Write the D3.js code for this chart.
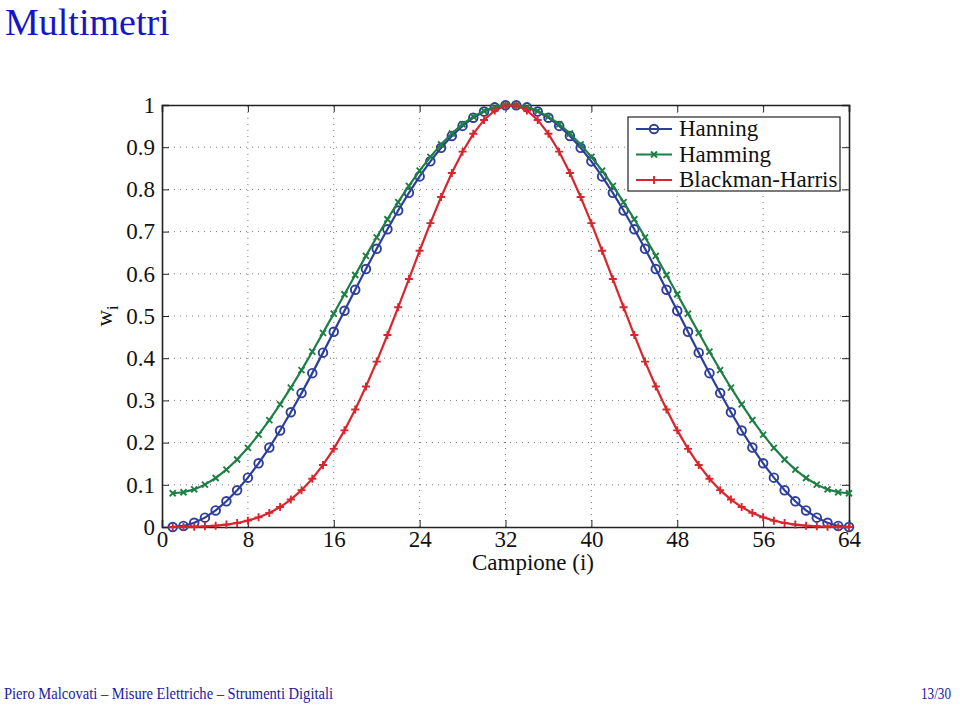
<!DOCTYPE html>
<html>
<head>
<meta charset="utf-8">
<script src="https://cdn.jsdelivr.net/npm/d3@7"></script>
<style>
  body { margin: 0; background: #fff; }
  svg { display: block; font-family: "Liberation Serif", "DejaVu Serif", serif; }
</style>
</head>
<body>
<svg id="chart" width="960" height="707"></svg>
<script>
// window values (samples i = 1..64)
const hanning = [
  0.0000, 0.0025, 0.0099, 0.0222, 0.0393, 0.0609, 0.0869, 0.1170, 0.1509, 0.1883, 0.2287, 0.2719, 0.3173, 0.3646, 0.4132, 0.4626,
  0.5125, 0.5622, 0.6113, 0.6592, 0.7056, 0.7500, 0.7919, 0.8308, 0.8665, 0.8986, 0.9266, 0.9505, 0.9698, 0.9845, 0.9944, 0.9994,
  0.9994, 0.9944, 0.9845, 0.9698, 0.9505, 0.9266, 0.8986, 0.8665, 0.8308, 0.7919, 0.7500, 0.7056, 0.6592, 0.6113, 0.5622, 0.5125,
  0.4626, 0.4132, 0.3646, 0.3173, 0.2719, 0.2287, 0.1883, 0.1509, 0.1170, 0.0869, 0.0609, 0.0393, 0.0222, 0.0099, 0.0025, 0.0000
];
const hamming = [
  0.0800, 0.0823, 0.0891, 0.1004, 0.1161, 0.1360, 0.1599, 0.1876, 0.2188, 0.2532, 0.2904, 0.3301, 0.3719, 0.4154, 0.4601, 0.5056,
  0.5515, 0.5972, 0.6424, 0.6865, 0.7292, 0.7700, 0.8085, 0.8444, 0.8772, 0.9067, 0.9325, 0.9544, 0.9723, 0.9858, 0.9949, 0.9994,
  0.9994, 0.9949, 0.9858, 0.9723, 0.9544, 0.9325, 0.9067, 0.8772, 0.8444, 0.8085, 0.7700, 0.7292, 0.6865, 0.6424, 0.5972, 0.5515,
  0.5056, 0.4601, 0.4154, 0.3719, 0.3301, 0.2904, 0.2532, 0.2188, 0.1876, 0.1599, 0.1360, 0.1161, 0.1004, 0.0891, 0.0823, 0.0800
];
const blackmanHarris = [
  0.0001, 0.0002, 0.0007, 0.0016, 0.0032, 0.0057, 0.0095, 0.0151, 0.0229, 0.0334, 0.0473, 0.0651, 0.0873, 0.1145, 0.1470, 0.1852,
  0.2290, 0.2783, 0.3328, 0.3920, 0.4549, 0.5206, 0.5876, 0.6546, 0.7200, 0.7820, 0.8390, 0.8894, 0.9317, 0.9646, 0.9871, 0.9986,
  0.9986, 0.9871, 0.9646, 0.9317, 0.8894, 0.8390, 0.7820, 0.7200, 0.6546, 0.5876, 0.5206, 0.4549, 0.3920, 0.3328, 0.2783, 0.2290,
  0.1852, 0.1470, 0.1145, 0.0873, 0.0651, 0.0473, 0.0334, 0.0229, 0.0151, 0.0095, 0.0057, 0.0032, 0.0016, 0.0007, 0.0002, 0.0001
];

const seriesNames = ['Hanning', 'Hamming', 'Blackman-Harris'];
const seriesColors = ['#2d3f9a', '#1e7f45', '#d8262e'];
const seriesMarkers = ['circle', 'cross', 'plus'];
const xTicks = [0, 8, 16, 24, 32, 40, 48, 56, 64];
const yTicks = [0, 0.1, 0.2, 0.3, 0.4, 0.5, 0.6, 0.7, 0.8, 0.9, 1];

const svg = d3.select('#chart');
const box = {left: 162, right: 849, top: 105, bottom: 527};
const fontSize = 23;

const x = d3.scaleLinear().domain([0, 64]).range([box.left, box.right]);
const y = d3.scaleLinear().domain([0, 1]).range([box.bottom, box.top]);

// title + footer
svg.append('text').text('Multimetri')
  .attr('x', 5).attr('y', 35)
  .attr('font-size', 38).attr('fill', '#1515c8');

svg.append('text').text('Piero Malcovati  \u2013  Misure Elettriche  \u2013  Strumenti Digitali')
  .attr('x', 4).attr('y', 699)
  .attr('font-size', 16).attr('fill', '#1a1aa0')
  .attr('textLength', 329).attr('lengthAdjust', 'spacingAndGlyphs');
svg.append('text').text('13/30')
  .attr('x', 951).attr('y', 699).attr('text-anchor', 'end')
  .attr('font-size', 16).attr('fill', '#1a1aa0')
  .attr('textLength', 30).attr('lengthAdjust', 'spacingAndGlyphs');

// dotted grid
const grid = svg.append('g').attr('id', 'grid')
  .attr('stroke', '#777').attr('stroke-width', 1).attr('stroke-dasharray', '1,5');
grid.selectAll('line.gx')
  .data(xTicks.slice(1, -1))
  .join('line').attr('class', 'gx')
    .attr('x1', d => x(d)).attr('x2', d => x(d))
    .attr('y1', box.bottom).attr('y2', box.top);
grid.selectAll('line.gy')
  .data(yTicks.slice(1, -1))
  .join('line').attr('class', 'gy')
    .attr('x1', box.left).attr('x2', box.right)
    .attr('y1', d => y(d)).attr('y2', d => y(d));

// axes with inward ticks (matlab style), on all four sides
const tickLen = 7;
svg.append('g').attr('transform', `translate(0 ${box.bottom})`)
  .call(d3.axisBottom(x).tickValues(xTicks).tickSize(-tickLen).tickPadding(4).tickFormat(d3.format('d')));
svg.append('g').attr('transform', `translate(0 ${box.top})`)
  .call(d3.axisTop(x).tickValues(xTicks).tickSize(-tickLen).tickFormat(''));
svg.append('g').attr('transform', `translate(${box.left} 0)`)
  .call(d3.axisLeft(y).tickValues(yTicks).tickSize(-tickLen).tickPadding(7).tickFormat(d => d === 0 || d === 1 ? d3.format('d')(d) : d3.format('.1f')(d)));
svg.append('g').attr('transform', `translate(${box.right} 0)`)
  .call(d3.axisRight(y).tickValues(yTicks).tickSize(-tickLen).tickFormat(''));

svg.selectAll('.domain').attr('stroke', '#222').attr('stroke-width', 1.6);
svg.selectAll('.tick line').attr('stroke', '#222').attr('stroke-width', 1);
svg.selectAll('.tick text')
  .attr('font-family', '"Liberation Serif", serif')
  .attr('font-size', fontSize).attr('fill', '#111');

// axis titles
svg.append('text').text('Campione (i)')
  .attr('x', 533).attr('y', 570).attr('text-anchor', 'middle')
  .attr('font-size', fontSize).attr('fill', '#111');

const yl = svg.append('text')
  .attr('transform', `translate(112 ${y(0.5)}) rotate(-90)`)
  .attr('text-anchor', 'middle').attr('font-size', fontSize).attr('fill', '#111');
yl.append('tspan').text('w');
yl.append('tspan').text('i').attr('font-size', 16).attr('dy', 6);

// series
const seriesData = [hanning, hamming, blackmanHarris];
const line = d3.line().x((d, i) => x(i + 1)).y(d => y(d));

function drawMarker(g, type, color) {
  if (type === 'circle') {
    g.append('circle').attr('r', 4.3).attr('fill', 'none')
      .attr('stroke', color).attr('stroke-width', 1.9);
  } else if (type === 'cross') {
    g.append('path').attr('d', 'M-3,-3L3,3M-3,3L3,-3')
      .attr('stroke', color).attr('stroke-width', 1.9);
  } else {
    g.append('path').attr('d', 'M-4,0L4,0M0,-4L0,4')
      .attr('stroke', color).attr('stroke-width', 1.9);
  }
}

seriesData.forEach((vals, s) => {
  const g = svg.append('g').attr('class', 'series');
  g.append('path').datum(vals)
    .attr('d', line)
    .attr('fill', 'none')
    .attr('stroke', seriesColors[s])
    .attr('stroke-width', 2.2);
  g.selectAll('g.mk')
    .data(vals)
    .join('g').attr('class', 'mk')
      .attr('transform', (d, i) => `translate(${x(i + 1)} ${y(d)})`)
      .each(function() { drawMarker(d3.select(this), seriesMarkers[s], seriesColors[s]); });
});

// legend
const leg = svg.append('g').attr('transform', 'translate(628 117)');
leg.append('rect')
  .attr('width', 212).attr('height', 74)
  .attr('fill', '#fff').attr('stroke', '#222').attr('stroke-width', 1.2);
const rows = leg.selectAll('g.row')
  .data(seriesNames)
  .join('g').attr('class', 'row')
    .attr('transform', (d, i) => `translate(0 ${12 + i * 25.5})`);
rows.append('line')
  .attr('x1', 8).attr('x2', 44)
  .attr('stroke', (d, i) => seriesColors[i]).attr('stroke-width', 2);
rows.append('g').attr('transform', 'translate(26 0)')
  .each(function(d, i) { drawMarker(d3.select(this), seriesMarkers[i], seriesColors[i]); });
rows.append('text').text(d => d)
  .attr('x', 51).attr('y', 7)
  .attr('font-size', fontSize).attr('fill', '#111');
</script>
</body>
</html>
